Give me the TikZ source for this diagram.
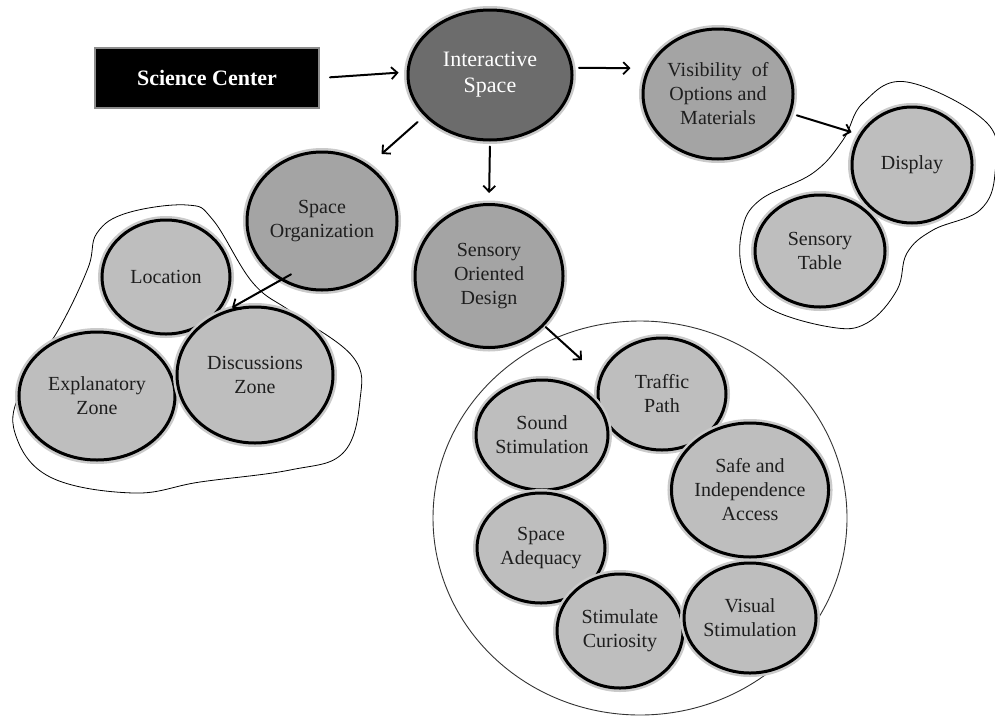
\documentclass[tikz,border=0pt]{standalone}
\usepackage{fontspec}
\setmainfont{Liberation Serif}
\usetikzlibrary{shapes.geometric,arrows.meta}
\definecolor{hubfill}{HTML}{6C6C6C}
\definecolor{midfill}{HTML}{A4A4A4}
\definecolor{leaffill}{HTML}{BEBEBE}
\definecolor{halo}{HTML}{CACACA}
\definecolor{ink}{HTML}{1E1E1E}
\begin{document}
\begin{tikzpicture}[x=1pt,y=-1pt,
  bub/.style={ellipse, inner sep=0pt, align=center, text=ink,
    font=\fontsize{20}{24}\selectfont,
    draw=black, line width=3pt,
    preaction={draw=halo, line width=8pt}},
  dims/.style 2 args={minimum width=#1pt, minimum height=#2pt},
  hub/.style={bub, fill=hubfill, text=white, font=\fontsize{22}{26}\selectfont},
  mid/.style={bub, fill=midfill},
  leaf/.style={bub, fill=leaffill},
  arr/.style={line width=2pt, line cap=round,
    -{Straight Barb[length=6pt,width=12pt,line width=1.8pt]}},
  blob/.style={draw=black, line width=0.8pt},
]
\useasboundingbox (0,0) rectangle (995,715);

% group outlines
\draw[blob] plot[smooth cycle, tension=0.65] coordinates {
  (187,205) (213,220) (253,283) (293,313) (353,357) (360,400)
  (343,453) (290,470) (200,482) (133,493) (50,477) (15,433)
  (22,388) (60,327) (88,268) (97,233) (127,213)};
\draw[blob] plot[smooth cycle, tension=0.65] coordinates {
  (907,82) (987,123) (995,173) (980,210) (933,230) (907,253)
  (897,290) (867,323) (830,327) (767,307) (743,273) (742,230)
  (760,200) (813,173) (843,140) (863,103)};
\node[ellipse, draw=black!80, line width=0.9pt, inner sep=0pt,
  dims={414}{394}] (ring) at (640,518) {};

% header box
\node[fill=black, draw=black!45, line width=2pt, text=white,
  font=\fontsize{22}{26}\selectfont\bfseries,
  minimum width=224pt, minimum height=60pt] (sci) at (207,78) {Science Center};

% main bubbles
\node[hub, dims={164}{130}] (inter) at (490,75) {Interactive\\Space};
\node[mid, dims={150}{130}] (vis) at (718,94) {Visibility\enspace of\\Options and\\Materials};
\node[mid, dims={150}{138}] (sorg) at (322,221) {Space\\Organization};
\node[mid, dims={148}{143}] (sod) at (489,276) {Sensory\\Oriented\\Design};

% right group
\node[leaf, dims={120}{116}] (disp) at (912,165) {Display};
\node[leaf, dims={130}{112}] (stab) at (820,251) {Sensory\\Table};

% left group
\node[leaf, dims={128}{114}] (loc) at (166,277) {Location};
\node[leaf, dims={156}{128}] (expl) at (97,396) {Explanatory\\Zone};
\node[leaf, dims={156}{136}] (disc) at (255,375) {Discussions\\Zone};

% ring group
\node[leaf, dims={128}{112}] (traf) at (662,394) {Traffic\\Path};
\node[leaf, dims={130}{110}] (sound) at (542,435) {Sound\\Stimulation};
\node[leaf, dims={156}{134}] (safe) at (750,490) {Safe and\\Independence\\Access};
\node[leaf, dims={128}{110}] (adeq) at (541,548) {Space\\Adequacy};
\node[leaf, dims={126}{114}] (curio) at (620,631) {Stimulate\\Curiosity};
\node[leaf, dims={130}{110}] (visual) at (750,618) {Visual\\Stimulation};

\coordinate (ringin) at (582,360);

% connectors
\draw[arr, shorten <=10pt, shorten >=8pt] (sci.east) -- (inter.178);
\draw[arr, shorten <=6pt, shorten >=17pt] (inter.5) -- (vis.160);
\draw[arr, shorten <=9pt, shorten >=17pt] (inter.-148) -- (sorg.50);
\draw[arr, shorten <=5pt, shorten >=10pt] (inter.-90) -- (sod.north);
\draw[arr, shorten <=6pt, shorten >=8pt] (vis.-15) -- (disp.150);
\draw[arr, shorten <=-12pt, shorten >=4pt] (sorg.-125) -- (disc.112);
\draw[arr, shorten <=2pt] (sod.-42) -- (ringin);
\end{tikzpicture}
\end{document}
